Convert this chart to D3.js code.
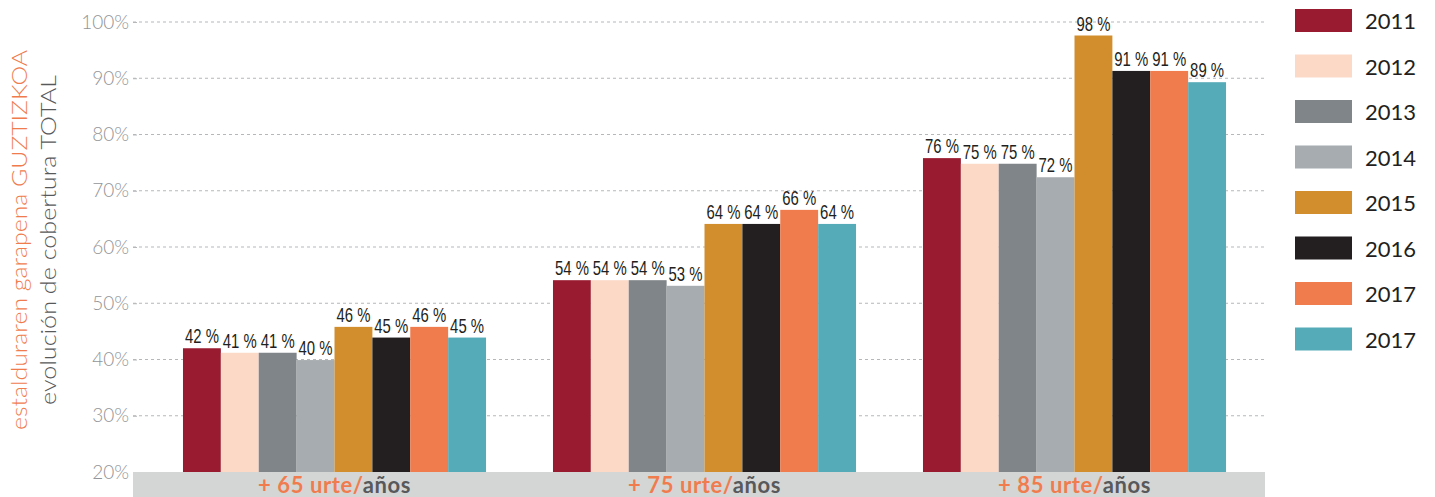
<!DOCTYPE html>
<html><head><meta charset="utf-8">
<script src="https://cdn.jsdelivr.net/npm/d3@7"></script>
<style>body{margin:0;background:#fff}svg{display:block}</style>
</head><body>
<script>
const groups = ["+ 65", "+ 75", "+ 85"];
const groupSuffix = "urte/";
const groupSuffix2 = "años";
const years = ["2011", "2012", "2013", "2014", "2015", "2016", "2017", "2017b"];
const yearLabels = ["2011", "2012", "2013", "2014", "2015", "2016", "2017", "2017"];
const colors = ["#981b2f", "#fcd9c7", "#808589", "#a6acaf", "#d28e2c", "#231f20", "#f07c4e", "#56abb8"];
const values65 = [42.0, 41.2, 41.2, 39.9, 45.8, 43.9, 45.8, 43.9];
const values75 = [54.1, 54.1, 54.1, 53.1, 64.1, 64.1, 66.6, 64.1];
const values85 = [75.8, 74.8, 74.8, 72.4, 97.6, 91.3, 91.3, 89.3];
const labels65 = ["42 %", "41 %", "41 %", "40 %", "46 %", "45 %", "46 %", "45 %"];
const labels75 = ["54 %", "54 %", "54 %", "53 %", "64 %", "64 %", "66 %", "64 %"];
const labels85 = ["76 %", "75 %", "75 %", "72 %", "98 %", "91 %", "91 %", "89 %"];
const yTicks = [20, 30, 40, 50, 60, 70, 80, 90, 100];
const titleOrange = "estalduraren garapena GUZTIZKOA";
const titleGray = "evolución de cobertura TOTAL";

const allValues = [values65, values75, values85];
const allLabels = [labels65, labels75, labels85];

const W = 1435, H = 497;
const svg = d3.select("body").append("svg").attr("width", W).attr("height", H);

const y = d3.scaleLinear().domain([20, 100]).range([472, 22]);
const x0 = d3.scaleBand().domain(groups).range([149.5, 1259.5]).paddingInner(0.181).paddingOuter(0.0905);
const x1 = d3.scaleBand().domain(years).range([0, x0.bandwidth()]);

// gridlines
svg.append("g").selectAll("line").data(yTicks.filter(t => t > 20)).join("line")
  .attr("x1", 133).attr("x2", 1265)
  .attr("y1", d => y(d)).attr("y2", d => y(d))
  .attr("stroke", "#b5b7b9").attr("stroke-width", 1).attr("stroke-dasharray", "3,3");

// axis
const yAxis = d3.axisLeft(y).tickValues(yTicks).tickFormat(d => d + "%").tickSize(4).tickPadding(4);
const ag = svg.append("g").attr("transform", "translate(137,0)").call(yAxis);
ag.select(".domain").remove();
ag.selectAll(".tick line").attr("stroke", "#b5b7b9");
ag.selectAll(".tick text").attr("fill", "#939598").attr("font-family", "Lato, 'Open Sans', sans-serif")
  .attr("font-size", 19).attr("font-weight", 300);

// bottom band
svg.append("rect").attr("x", 133).attr("y", 472).attr("width", 1132).attr("height", 25).attr("fill", "#d4d6d5");

// bars
const gg = svg.append("g").selectAll("g").data(groups).join("g")
  .attr("transform", d => `translate(${x0(d)},0)`);
gg.selectAll("rect").data((g, i) => allValues[i].map((v, j) => ({v, j, yr: years[j]}))).join("rect")
  .attr("x", d => x1(d.yr)).attr("width", x1.bandwidth())
  .attr("y", d => y(d.v)).attr("height", d => y(20) - y(d.v))
  .attr("fill", d => colors[d.j]);
gg.selectAll("text.val").data((g, i) => allValues[i].map((v, j) => ({v, j, yr: years[j], lab: allLabels[i][j]}))).join("text")
  .attr("class", "val")
  .attr("transform", d => `translate(${x1(d.yr) + x1.bandwidth() / 2},${y(d.v) - 5}) scale(0.71,1)`)
  .attr("text-anchor", "middle")
  .attr("font-family", "'Liberation Sans', Arial, sans-serif")
  .attr("font-size", 21).attr("fill", "#231f20")
  .text(d => d.lab);

// group labels
const gl = svg.append("g").selectAll("text").data(groups).join("text")
  .attr("x", d => x0(d) + x0.bandwidth() / 2).attr("y", 493)
  .attr("text-anchor", "middle")
  .attr("font-family", "Lato, 'Open Sans', sans-serif").attr("font-weight", 700).attr("font-size", 22)
  .attr("letter-spacing", 0.6);
gl.append("tspan").attr("fill", "#f07c4e").text(d => d + " " + groupSuffix);
gl.append("tspan").attr("fill", "#58595b").text(groupSuffix2);

// titles
svg.append("text").attr("transform", "translate(27,240) rotate(-90)")
  .attr("text-anchor", "middle").attr("font-family", "Lato, 'Open Sans', sans-serif").attr("font-weight", 300)
  .attr("font-size", 21).attr("fill", "#f07c4e")
  .attr("textLength", 380).attr("lengthAdjust", "spacingAndGlyphs").text(titleOrange);
svg.append("text").attr("transform", "translate(56,240) rotate(-90)")
  .attr("text-anchor", "middle").attr("font-family", "Lato, 'Open Sans', sans-serif").attr("font-weight", 300)
  .attr("font-size", 21).attr("fill", "#58595b")
  .attr("textLength", 330).attr("lengthAdjust", "spacingAndGlyphs").text(titleGray);

// legend
const lg = svg.append("g").selectAll("g").data(years).join("g")
  .attr("transform", (d, i) => `translate(1295,${9 + i * 45.5})`);
lg.append("rect").attr("width", 57).attr("height", 23).attr("fill", (d, i) => colors[i]);
lg.append("text").attr("x", 70).attr("y", 20)
  .attr("font-family", "Lato, 'Open Sans', sans-serif").attr("font-size", 22).attr("fill", "#231f20")
  .text((d, i) => yearLabels[i]);
</script>
</body></html>
